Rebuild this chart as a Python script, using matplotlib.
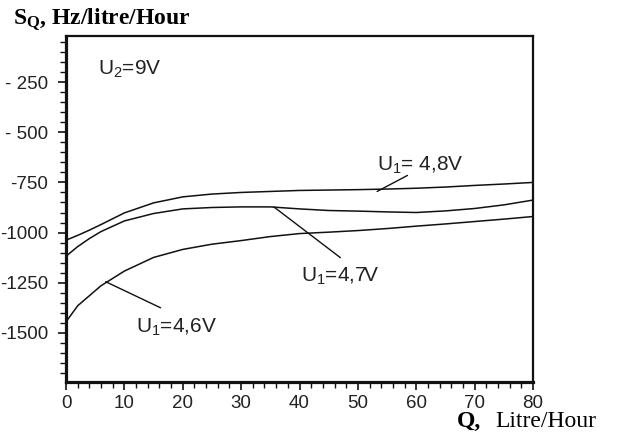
import matplotlib
matplotlib.use("Agg")
import matplotlib.pyplot as plt
from matplotlib.ticker import MultipleLocator, FixedLocator

plt.rcParams['mathtext.default'] = 'regular'

# Data
Q = [0, 2, 4, 6, 10, 15, 20, 25, 30, 35, 40, 45, 50, 55, 60, 65, 70, 75, 80]
S_48 = [-1038, -1014, -988, -960, -902, -852, -822, -808, -800, -795, -790, -788, -786, -783, -779, -773, -765, -758, -750]
S_47 = [-1118, -1070, -1030, -995, -942, -905, -882, -875, -872, -872, -882, -890, -893, -897, -900, -892, -880, -862, -838]
S_46 = [-1445, -1365, -1315, -1265, -1192, -1124, -1084, -1058, -1040, -1020, -1005, -998, -990, -980, -968, -957, -945, -933, -920]

x_ticks = [0, 10, 20, 30, 40, 50, 60, 70, 80]
x_labels = ["0", "10", "20", "30", "40", "50", "60", "70", "80"]
y_ticks = [-250, -500, -750, -1000, -1250, -1500]
y_labels = ["- 250", "- 500", "-750", "-1000", "-1250", "-1500"]

W, H = 624, 436
fig = plt.figure(figsize=(W / 100, H / 100), dpi=100)
ax = fig.add_axes([66 / W, (H - 382) / H, (533 - 66) / W, (382 - 36) / H])

lc = '#111111'
for s in (S_48, S_47, S_46):
    ax.plot(Q, s, color=lc, lw=1.1)

ax.set_xlim(0, 80)
ax.set_ylim(-1745, -20)

ax.xaxis.set_major_locator(FixedLocator(x_ticks))
ax.set_xticklabels(x_labels)
ax.xaxis.set_minor_locator(MultipleLocator(2))
ax.yaxis.set_major_locator(FixedLocator(y_ticks))
ax.set_yticklabels(y_labels)
ax.yaxis.set_minor_locator(MultipleLocator(50))

for lab in ax.get_xticklabels() + ax.get_yticklabels():
    lab.set_fontfamily('Liberation Sans')
    lab.set_fontsize(13.5)
    lab.set_color('#222222')

ax.tick_params(axis='both', which='major', direction='out', length=6, width=1.2, color='#111111')
ax.tick_params(axis='both', which='minor', direction='out', length=4, width=1.0, color='#111111')
ax.tick_params(axis='y', which='major', pad=7)
ax.tick_params(axis='x', which='major', pad=3)

ax.spines['left'].set_linewidth(2.3)
ax.spines['bottom'].set_linewidth(2.3)
ax.spines['top'].set_linewidth(1.6)
ax.spines['right'].set_linewidth(1.6)
for sp in ax.spines.values():
    sp.set_color('#111111')

lab_font = dict(family='Liberation Sans', fontsize=15, color='#222222')

ax.text(5.5, -215, "U$_2$=9V", **lab_font)

# U1 = 4.8 V
ax.annotate("", xy=(53.3, -795), xytext=(58.5, -715),
            arrowprops=dict(arrowstyle='-', color=lc, lw=1.0, shrinkA=0, shrinkB=0))
ax.text(53.2, -690, "U$_1$= 4,8V", **lab_font)

# U1 = 4.7 V
ax.annotate("", xy=(35.6, -872), xytext=(47, -1125),
            arrowprops=dict(arrowstyle='-', color=lc, lw=1.0, shrinkA=0, shrinkB=0))
ax.text(40.3, -1245, "U$_1$=4,7V", **lab_font)

# U1 = 4.6 V
ax.annotate("", xy=(6.8, -1245), xytext=(16.2, -1375),
            arrowprops=dict(arrowstyle='-', color=lc, lw=1.0, shrinkA=0, shrinkB=0))
ax.text(12, -1500, "U$_1$=4,6V", **lab_font)

# Axis titles
fig.text(13 / W, (H - 25) / H, "S$_Q$, Hz/litre/Hour", family='Liberation Serif',
         fontweight='bold', fontsize=17, va='baseline', ha='left')
fig.text(457 / W, (H - 427) / H, "Q,", family='Liberation Serif',
         fontweight='bold', fontsize=17, va='baseline', ha='left')
fig.text(495 / W, (H - 427) / H, "Litre/Hour", family='Liberation Serif',
         fontsize=17, va='baseline', ha='left')

fig.savefig("out.png", dpi=100)
